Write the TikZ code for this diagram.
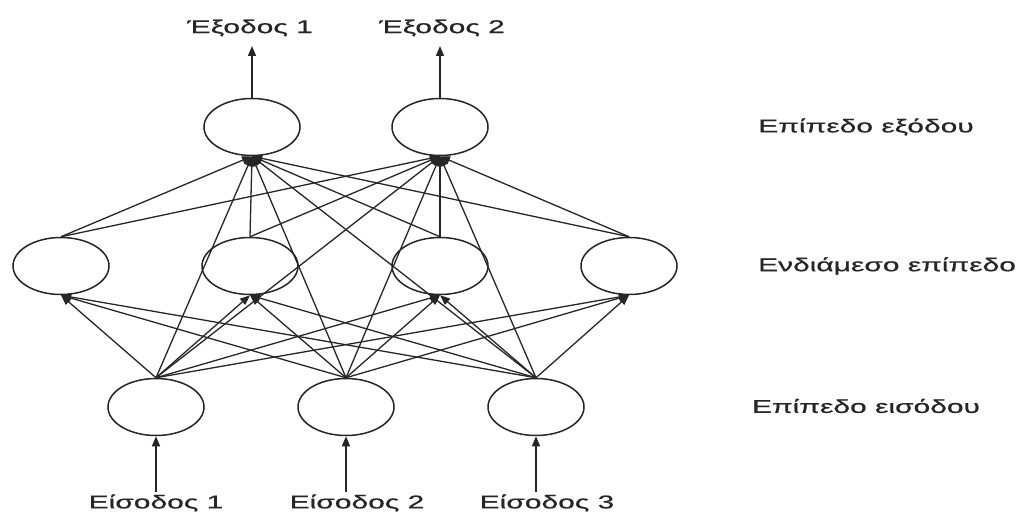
\documentclass[tikz,border=0pt]{standalone}
\usepackage{fontspec}
\setmainfont[FakeStretch=1.62,FakeBold=0.6]{Liberation Sans}
\usetikzlibrary{shapes.geometric,arrows.meta}
\begin{document}
\begin{tikzpicture}[x=1pt,y=-1pt,
  neuron/.style={ellipse, draw=black!85, line width=1.5pt, minimum width=96pt, minimum height=57pt, inner sep=0pt},
  conn/.style={draw=black!85, line width=1.3pt, -{Triangle[length=10pt,width=8pt]}},
  lbl/.style={font=\fontsize{18.5}{20}\selectfont, text=black!85, inner sep=0pt}]
\useasboundingbox (0,0) rectangle (1026,516);
% nodes
\node[neuron] (o1) at (252,127) {};
\node[neuron] (o2) at (440,127) {};
\node[neuron] (h1) at (61,266) {};
\node[neuron] (h2) at (250,266) {};
\node[neuron] (h3) at (440,266) {};
\node[neuron] (h4) at (629,266) {};
\node[neuron] (i1) at (156,407) {};
\node[neuron] (i2) at (346,407) {};
\node[neuron] (i3) at (536,407) {};
% connections
\foreach \i in {i1,i2,i3}{
  \foreach \h in {h1,h2,h3,h4}{ \draw[conn] (\i.north) -- (\h.south); }
  \foreach \o in {o1,o2}{ \draw[conn] (\i.north) -- (\o.south); }
}
\foreach \h in {h1,h2,h3,h4}{
  \foreach \o in {o1,o2}{ \draw[conn] (\h.north) -- (\o.south); }
}
% outputs
\coordinate (t1) at (252,46);
\coordinate (t2) at (440,46);
\draw[conn] (o1.north) -- (t1);
\draw[conn] (o2.north) -- (t2);
\node[lbl] (lo1) at (250,28) {Έξοδος 1};
\node[lbl] (lo2) at (442,28) {Έξοδος 2};
% inputs
\coordinate (b1) at (156,492);
\coordinate (b2) at (346,492);
\coordinate (b3) at (536,492);
\draw[conn] (b1) -- (i1.south);
\draw[conn] (b2) -- (i2.south);
\draw[conn] (b3) -- (i3.south);
\node[lbl] (li1) at (156,503) {Είσοδος 1};
\node[lbl] (li2) at (357,503) {Είσοδος 2};
\node[lbl] (li3) at (547,503) {Είσοδος 3};
% layer labels
\node[lbl] (lout) at (866,127) {Επίπεδο εξόδου};
\node[lbl] (lhid) at (887,266) {Ενδιάμεσο επίπεδο};
\node[lbl] (lin) at (866,406) {Επίπεδο εισόδου};
\end{tikzpicture}
\end{document}
